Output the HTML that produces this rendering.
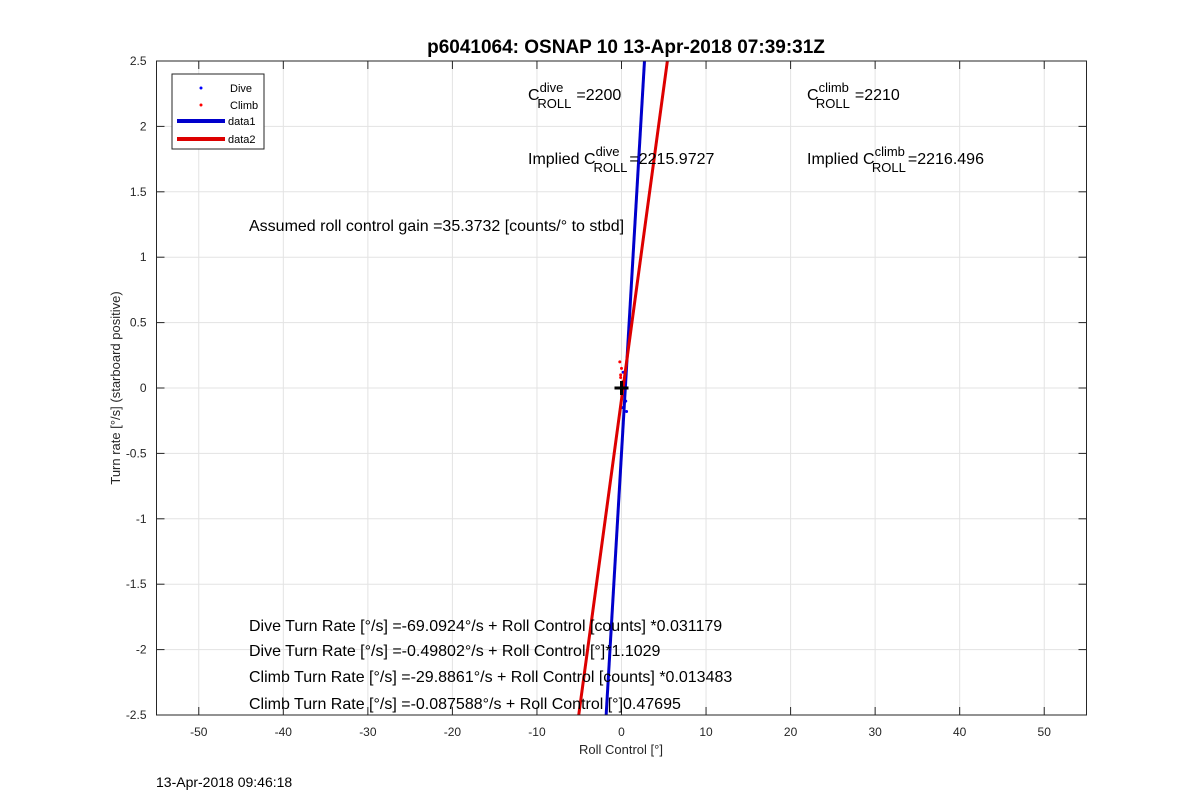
<!DOCTYPE html>
<html><head><meta charset="utf-8"><style>
html,body{margin:0;padding:0;background:#fff;}
svg{display:block;font-family:"Liberation Sans",Arial,sans-serif;}
</style></head><body>
<svg id="chart" width="1200" height="804" viewBox="0 0 1200 804">
<defs><clipPath id="clip"><rect x="156.5" y="61" width="930" height="654"/></clipPath></defs>
<g id="grid"></g>
<g id="marks" clip-path="url(#clip)"></g>
<rect x="156.5" y="61" width="930" height="654" fill="none" stroke="#262626" stroke-width="1"/>
<g id="ticks"></g>
<text x="626" y="53" text-anchor="middle" font-size="19" font-weight="bold">p6041064: OSNAP 10 13-Apr-2018 07:39:31Z</text>
<text x="621" y="754" text-anchor="middle" font-size="13" fill="#262626">Roll Control [°]</text>
<text transform="translate(120,388) rotate(-90)" text-anchor="middle" font-size="13" fill="#262626">Turn rate [°/s] (starboard positive)</text>
<text x="156" y="787" font-size="14">13-Apr-2018 09:46:18</text>
<g font-size="16" fill="#000">
<text x="528" y="100">C<tspan font-size="13" dy="-8">dive</tspan><tspan font-size="13" dx="-26" dy="16">ROLL</tspan><tspan dx="5" dy="-8">=2200</tspan></text>
<text x="807" y="100">C<tspan font-size="13" dy="-8">climb</tspan><tspan font-size="13" dx="-33" dy="16">ROLL</tspan><tspan dx="5" dy="-8">=2210</tspan></text>
<text x="528" y="164">Implied C<tspan font-size="13" dy="-8">dive</tspan><tspan font-size="13" dx="-26" dy="16">ROLL</tspan><tspan dx="2" dy="-8">=2215.9727</tspan></text>
<text x="807" y="164">Implied C<tspan font-size="13" dy="-8">climb</tspan><tspan font-size="13" dx="-33" dy="16">ROLL</tspan><tspan dx="2" dy="-8">=2216.496</tspan></text>
<text x="249" y="231">Assumed roll control gain =35.3732 [counts/° to stbd]</text>
<text x="249" y="631">Dive Turn Rate [°/s] =-69.0924°/s + Roll Control [counts] *0.031179</text>
<text x="249" y="656">Dive Turn Rate [°/s] =-0.49802°/s + Roll Control [°]*1.1029</text>
<text x="249" y="682">Climb Turn Rate [°/s] =-29.8861°/s + Roll Control [counts] *0.013483</text>
<text x="249" y="709">Climb Turn Rate [°/s] =-0.087588°/s + Roll Control [°]0.47695</text>
</g>
<g>
<rect x="172" y="74" width="92" height="75" fill="#fff" stroke="#262626" stroke-width="1"/>
<circle cx="201" cy="88" r="1.5" fill="#0000ff"/>
<text x="230" y="92" font-size="11">Dive</text>
<circle cx="201" cy="105" r="1.5" fill="#ff0000"/>
<text x="230" y="109" font-size="11">Climb</text>
<line x1="177" y1="121" x2="225" y2="121" stroke="#0000cc" stroke-width="4"/>
<text x="228" y="125" font-size="11">data1</text>
<line x1="177" y1="139" x2="225" y2="139" stroke="#dd0000" stroke-width="4"/>
<text x="228" y="143" font-size="11">data2</text>
</g>
</svg>
<script>
const xTicks = [-50,-40,-30,-20,-10,0,10,20,30,40,50];
const yTicks = [-2.5,-2,-1.5,-1,-0.5,0,0.5,1,1.5,2,2.5];
const fitNames = ['dive-fit-line','climb-fit-line'];
const fitSlopes = [1.1029, 0.47695];
const fitIntercepts = [-0.49802, -0.087588];
const fitColors = ['#0000cc','#dd0000'];
const diveX = [0.1,0.2,0.3,0.4,0.5,0.6,0.2];
const diveY = [-0.15,-0.05,0.05,0.1,-0.1,-0.18,0.12];
const climbX = [-0.2,-0.1,0.0,0.1,0.2,-0.1];
const climbY = [0.2,0.1,0.15,-0.05,0.05,0.08];
const X0=156.5,X1=1086.5,Y0=715,Y1=61,XMIN=-55,XMAX=55,YMIN=-2.5,YMAX=2.5;
const sx=v=>X0+(v-XMIN)/(XMAX-XMIN)*(X1-X0);
const sy=v=>Y0-(v-YMIN)/(YMAX-YMIN)*(Y0-Y1);
const NS='http://www.w3.org/2000/svg';
const mk=(t,a,p)=>{const e=document.createElementNS(NS,t);for(const k in a)e.setAttribute(k,a[k]);p.appendChild(e);return e;};
const grid=document.getElementById('grid'),ticks=document.getElementById('ticks'),marks=document.getElementById('marks');
xTicks.forEach(v=>{
  const g=mk('line',{x1:sx(v),x2:sx(v),y1:Y1,y2:Y0,stroke:'#e3e3e3','stroke-width':1},grid);
  
  
  mk('line',{x1:sx(v),x2:sx(v),y1:Y0,y2:Y0-8,stroke:'#262626'},ticks);
  mk('line',{x1:sx(v),x2:sx(v),y1:Y1,y2:Y1+8,stroke:'#262626'},ticks);
  const t=mk('text',{x:sx(v),y:Y0+21,'text-anchor':'middle','font-size':12,fill:'#262626'},ticks);
  t.textContent=v;
  
  
});
yTicks.forEach(v=>{
  const g=mk('line',{x1:X0,x2:X1,y1:sy(v),y2:sy(v),stroke:'#e3e3e3','stroke-width':1},grid);
  
  
  mk('line',{x1:X0,x2:X0+8,y1:sy(v),y2:sy(v),stroke:'#262626'},ticks);
  mk('line',{x1:X1,x2:X1-8,y1:sy(v),y2:sy(v),stroke:'#262626'},ticks);
  const t=mk('text',{x:X0-10,y:sy(v)+4,'text-anchor':'end','font-size':12,fill:'#262626'},ticks);
  t.textContent=v;
  
  
});
diveX.forEach((x,i)=>{
  const c=mk('circle',{cx:sx(x),cy:sy(diveY[i]),r:1.5,fill:'#0000ff'},marks);
  
  
});
climbX.forEach((x,i)=>{
  const c=mk('circle',{cx:sx(x),cy:sy(climbY[i]),r:1.5,fill:'#ff0000'},marks);
  
  
});
fitSlopes.forEach((m,i)=>{
  const b=fitIntercepts[i];
  const xa=(YMIN-0.5-b)/m, xb=(YMAX+0.5-b)/m;
  const l=mk('line',{x1:sx(xa),y1:sy(YMIN-0.5),x2:sx(xb),y2:sy(YMAX+0.5),stroke:fitColors[i],'stroke-width':3},marks);
  
  
});
const p=mk('path',{d:`M${sx(0)-7},${sy(0)}h14M${sx(0)},${sy(0)-7}v14`,stroke:'#000','stroke-width':3},document.getElementById('chart'));


</script>
</body></html>
